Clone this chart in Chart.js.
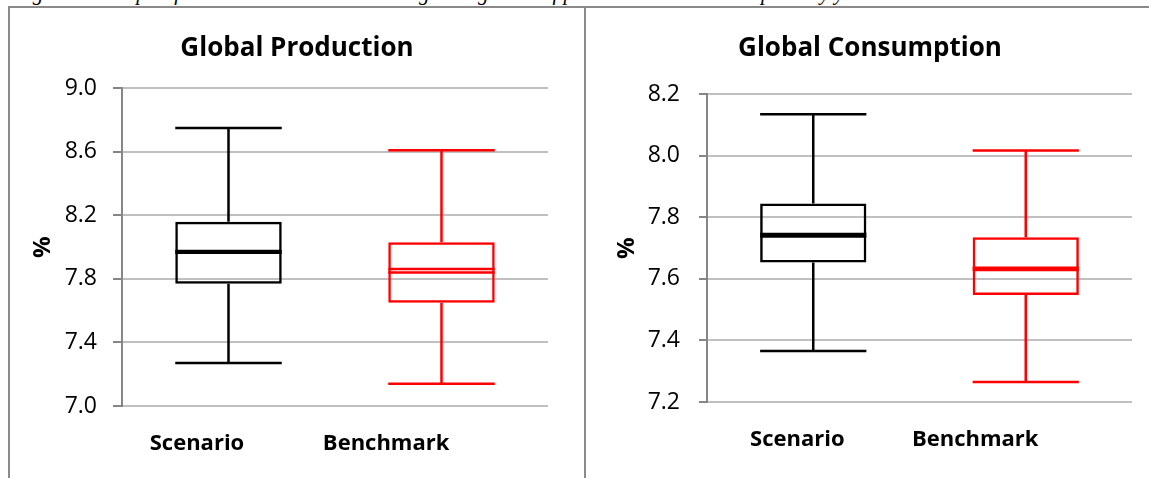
<!DOCTYPE html>
<html>
<head>
<meta charset="utf-8">
<script src="https://cdn.jsdelivr.net/npm/chart.js@4.4.1/dist/chart.umd.min.js"></script>
<style>
  html, body { margin: 0; padding: 0; background: #fff; }
  #page { position: relative; width: 1149px; height: 478px; overflow: hidden; background: #fff; }
  #caption {
    position: absolute; left: 14px; top: -17px; white-space: nowrap;
    font: italic 21px/20px "Liberation Serif", "DejaVu Serif", serif; color: #000;
  }
  .rule { position: absolute; background: #8a8a8a; }
  .panel { position: absolute; top: 8px; height: 470px; }
  #prodWrap { left: 10px; width: 574px; }
  #consWrap { left: 586px; width: 568px; }
</style>
</head>
<body>
<div id="page">
  <div id="caption">Figure 4: Box plot for result validation with the global growth of production and consumption by year</div>
  <div class="rule" style="left:8px; top:6px; width:1141px; height:2px;"></div>
  <div class="rule" style="left:8px; top:6px; width:2px; height:472px;"></div>
  <div class="rule" style="left:584px; top:6px; width:2px; height:472px;"></div>
  <div class="panel" id="prodWrap"><canvas id="prod" width="574" height="470"></canvas></div>
  <div class="panel" id="consWrap"><canvas id="cons" width="568" height="470"></canvas></div>
</div>
<script>
// Categories shared by both panels
const categories = ['Scenario', 'Benchmark'];
const boxColors = ['#000000', '#ff0000'];

// Global production (%) – five-number summaries plus mean
const prodLow    = [7.27, 7.14];
const prodQ1     = [7.77, 7.65];
const prodMedian = [7.965, 7.84];
const prodMean   = [7.975, 7.862];
const prodQ3     = [8.16, 8.03];
const prodHigh   = [8.75, 8.61];
const prodTicks  = [7.0, 7.4, 7.8, 8.2, 8.6, 9.0];

// Global consumption (%)
const consLow    = [7.366, 7.265];
const consQ1     = [7.653, 7.548];
const consMedian = [7.738, 7.629];
const consMean   = [7.746, 7.636];
const consQ3     = [7.845, 7.735];
const consHigh   = [8.135, 8.017];
const consTicks  = [7.2, 7.4, 7.6, 7.8, 8.0, 8.2];

Chart.defaults.font.family = '"Open Sans", "DejaVu Sans", sans-serif';
Chart.defaults.color = '#000';

const LINE_W = 2.5;

// Whiskers, caps and centre lines drawn on top of each floating box
const boxWhiskers = {
  id: 'boxWhiskers',
  afterDatasetsDraw(chart, args, opts) {
    const { ctx } = chart;
    const y = chart.scales.y;
    const meta = chart.getDatasetMeta(0);
    ctx.save();
    ctx.lineCap = 'butt';
    meta.data.forEach((bar, i) => {
      const cx = bar.x;
      const half = bar.width / 2;
      const px = v => y.getPixelForValue(v);
      ctx.strokeStyle = opts.colors[i];
      ctx.lineWidth = LINE_W;
      ctx.beginPath();
      // upper whisker and cap
      ctx.moveTo(cx, px(opts.q3[i]));
      ctx.lineTo(cx, px(opts.high[i]));
      ctx.moveTo(cx - half, px(opts.high[i]));
      ctx.lineTo(cx + half, px(opts.high[i]));
      // lower whisker and cap
      ctx.moveTo(cx, px(opts.q1[i]));
      ctx.lineTo(cx, px(opts.low[i]));
      ctx.moveTo(cx - half, px(opts.low[i]));
      ctx.lineTo(cx + half, px(opts.low[i]));
      // median and mean
      ctx.moveTo(cx - half, px(opts.median[i]));
      ctx.lineTo(cx + half, px(opts.median[i]));
      ctx.moveTo(cx - half, px(opts.mean[i]));
      ctx.lineTo(cx + half, px(opts.mean[i]));
      ctx.stroke();
    });
    ctx.restore();
  }
};

function makeBoxChart(id, cfg) {
  return new Chart(document.getElementById(id), {
    type: 'bar',
    data: {
      labels: categories,
      datasets: [{
        data: categories.map((c, i) => [cfg.q1[i], cfg.q3[i]]),
        backgroundColor: 'rgba(0,0,0,0)',
        borderColor: boxColors,
        borderWidth: LINE_W,
        borderSkipped: false,
        barPercentage: 0.5,
        categoryPercentage: 1.0,
        xAxisID: 'x',
        yAxisID: 'y'
      }]
    },
    options: {
      responsive: false,
      devicePixelRatio: 1,
      animation: false,
      events: [],
      layout: { padding: 0 },
      plugins: {
        legend: { display: false },
        tooltip: { enabled: false },
        title: {
          display: true,
          text: cfg.title,
          color: '#000',
          font: { size: 26, weight: 'bold', lineHeight: 1.2 },
          padding: { top: 25, bottom: cfg.titleGap }
        },
        boxWhiskers: {
          colors: boxColors,
          low: cfg.low, q1: cfg.q1, median: cfg.median, mean: cfg.mean, q3: cfg.q3, high: cfg.high
        }
      },
      scales: {
        x: { type: 'category', display: false, offset: true },
        xl: {
          type: 'linear',
          position: 'bottom',
          offset: false,
          min: 0, max: 1,
          grid: { display: false, offset: false },
          border: { display: false },
          afterBuildTicks: s => { s.ticks = cfg.labelAt.map(v => ({ value: v })); },
          afterFit: s => { s.height = cfg.bottomHeight; },
          ticks: {
            autoSkip: false, maxRotation: 0, padding: 17,
            font: { size: 22, weight: 'bold', lineHeight: 1.2 },
            callback: (v, i) => categories[i]
          }
        },
        y: {
          type: 'linear',
          position: 'left',
          min: cfg.ticks[0],
          max: cfg.ticks[cfg.ticks.length - 1],
          afterBuildTicks: s => { s.ticks = cfg.ticks.map(v => ({ value: v })); },
          afterFit: s => { s.width = cfg.axisWidth; },
          grid: { color: '#c0c0c0', lineWidth: 2, tickLength: cfg.tickLen, tickColor: '#868686', tickWidth: 2 },
          border: { color: '#868686', width: 2 },
          ticks: {
            padding: cfg.tickPad,
            font: { size: 23, lineHeight: 1.2 },
            callback: v => Number(v).toFixed(1)
          },
          title: {
            display: true,
            text: '%',
            font: { size: 24, weight: 'bold', lineHeight: 1.2 },
            padding: { top: cfg.titlePad, bottom: 0 }
          }
        },
        // empty right-hand margin so the title stays centred on the whole panel
        yr: {
          type: 'linear',
          position: 'right',
          min: 0, max: 1,
          grid: { display: false },
          border: { display: false },
          ticks: { display: false },
          afterFit: s => { s.width = cfg.padRight; }
        }
      }
    },
    plugins: [boxWhiskers]
  });
}

makeBoxChart('prod', {
  title: 'Global Production',
  low: prodLow, q1: prodQ1, median: prodMedian, mean: prodMean, q3: prodQ3, high: prodHigh,
  ticks: prodTicks,
  padRight: 36, titleGap: 24, axisWidth: 112, bottomHeight: 72,
  tickLen: 9, tickPad: 16, titlePad: 19,
  labelAt: [0.176, 0.62]
});

makeBoxChart('cons', {
  title: 'Global Consumption',
  low: consLow, q1: consQ1, median: consMedian, mean: consMean, q3: consQ3, high: consHigh,
  ticks: consTicks,
  padRight: 22, titleGap: 30, axisWidth: 121, bottomHeight: 76,
  tickLen: 8, tickPad: 19, titlePad: 27,
  labelAt: [0.2125, 0.631]
});
</script>
</body>
</html>
